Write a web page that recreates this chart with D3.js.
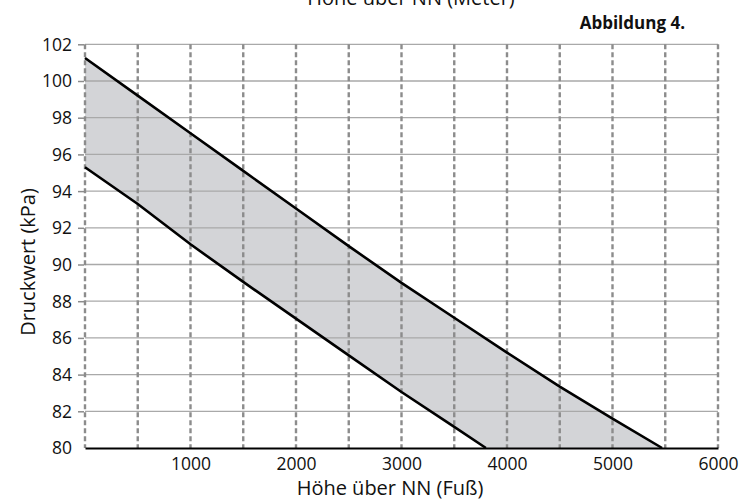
<!DOCTYPE html>
<html><head><meta charset="utf-8">
<script src="https://cdn.jsdelivr.net/npm/d3@7/dist/d3.min.js"></script>
<style>body{margin:0;background:#fff}svg{display:block}text{font-family:"Open Sans",sans-serif;fill:#111}</style>
</head><body>
<svg id="c" width="755" height="500"></svg>
<script>
const xTicks = [1000, 2000, 3000, 4000, 5000, 6000];
const xGrid = [0, 500, 1000, 1500, 2000, 2500, 3000, 3500, 4000, 4500, 5000, 5500, 6000];
const yTicks = [80, 82, 84, 86, 88, 90, 92, 94, 96, 98, 100, 102];
const upperFt = [0, 500, 1000, 1500, 2000, 2500, 3000, 3500, 4000, 4500, 5000, 5470];
const upperKPa = [101.25, 99.2, 97.15, 95.1, 93.05, 91.0, 89.0, 87.1, 85.2, 83.35, 81.6, 80];
const lowerFt = [0, 500, 1000, 1500, 2000, 2500, 3000, 3500, 3800];
const lowerKPa = [95.3, 93.3, 91.1, 89.05, 87.05, 85.05, 83.05, 81.15, 80];
const topTitle = "Höhe über NN (Meter)";
const xTitle = "Höhe über NN (Fuß)";
const yTitle = "Druckwert (kPa)";
const figLabel = "Abbildung 4.";

const svg = d3.select("#c");
const x = d3.scaleLinear().domain([0, 6000]).range([85, 718]);
const y = d3.scaleLinear().domain([80, 102]).range([448, 44.3]);

const upper = upperFt.map((f, i) => [f, upperKPa[i]]);
const lower = lowerFt.map((f, i) => [f, lowerKPa[i]]);
const poly = upper.concat(lower.slice().reverse());
const line = d3.line().x(d => x(d[0])).y(d => y(d[1]));

// fill band
svg.append("path").attr("d", line(poly) + "Z").attr("fill", "#d3d4d7");

// horizontal gridlines
svg.append("g").selectAll("line").data(yTicks.filter(v => v > 80)).join("line")
  .attr("x1", x(0)).attr("x2", x(6000)).attr("y1", d => y(d)).attr("y2", d => y(d))
  .attr("stroke", "#a9a9a9").attr("stroke-width", 1.3);

// vertical dashed gridlines
svg.append("g").selectAll("line").data(xGrid).join("line")
  .attr("x1", d => x(d)).attr("x2", d => x(d)).attr("y1", y(102)).attr("y2", y(80))
  .attr("stroke", "#8c8c8c").attr("stroke-width", 2.4).attr("stroke-dasharray", "5,3");

// y axis ticks & labels
const yAxis = d3.axisLeft(y).tickValues(yTicks).tickSize(6).tickPadding(6).tickFormat(d3.format("d"));
const ya = svg.append("g").attr("transform", `translate(${x(0) - 1},0)`).call(yAxis);
ya.select(".domain").remove();
ya.selectAll(".tick line").attr("stroke", "#8c8c8c").attr("stroke-width", 1.5);
ya.selectAll(".tick").filter(d => d === 80).select("line").remove();
ya.selectAll("text").style("font-family", "'Open Sans',sans-serif").style("font-size", "17.5px").attr("fill", "#111").attr("dy", "0.34em");

// x axis
const xAxis = d3.axisBottom(x).tickValues(xTicks).tickSize(0).tickPadding(10).tickFormat(d3.format("d"));
const xa = svg.append("g").attr("transform", `translate(0,${y(80)})`).call(xAxis);
xa.select(".domain").attr("stroke", "#000").attr("stroke-width", 2);
xa.selectAll("text").style("font-family", "'Open Sans',sans-serif").style("font-size", "17.5px").attr("fill", "#111");

// curves
svg.append("path").attr("d", line(upper)).attr("fill", "none").attr("stroke", "#000").attr("stroke-width", 2.6);
svg.append("path").attr("d", line(lower)).attr("fill", "none").attr("stroke", "#000").attr("stroke-width", 2.6);

// titles
svg.append("text").attr("x", 411).attr("y", 5).attr("text-anchor", "middle").style("font-size", "20px").text(topTitle);
svg.append("text").attr("x", 390).attr("y", 495).attr("text-anchor", "middle").style("font-size", "20px").text(xTitle);
svg.append("text").attr("transform", "translate(35,262) rotate(-90)").attr("text-anchor", "middle").style("font-size", "20px").text(yTitle);
svg.append("text").attr("x", 685).attr("y", 29).attr("text-anchor", "end").style("font-size", "17px").style("font-weight", "bold").text(figLabel);
</script>
</body></html>
